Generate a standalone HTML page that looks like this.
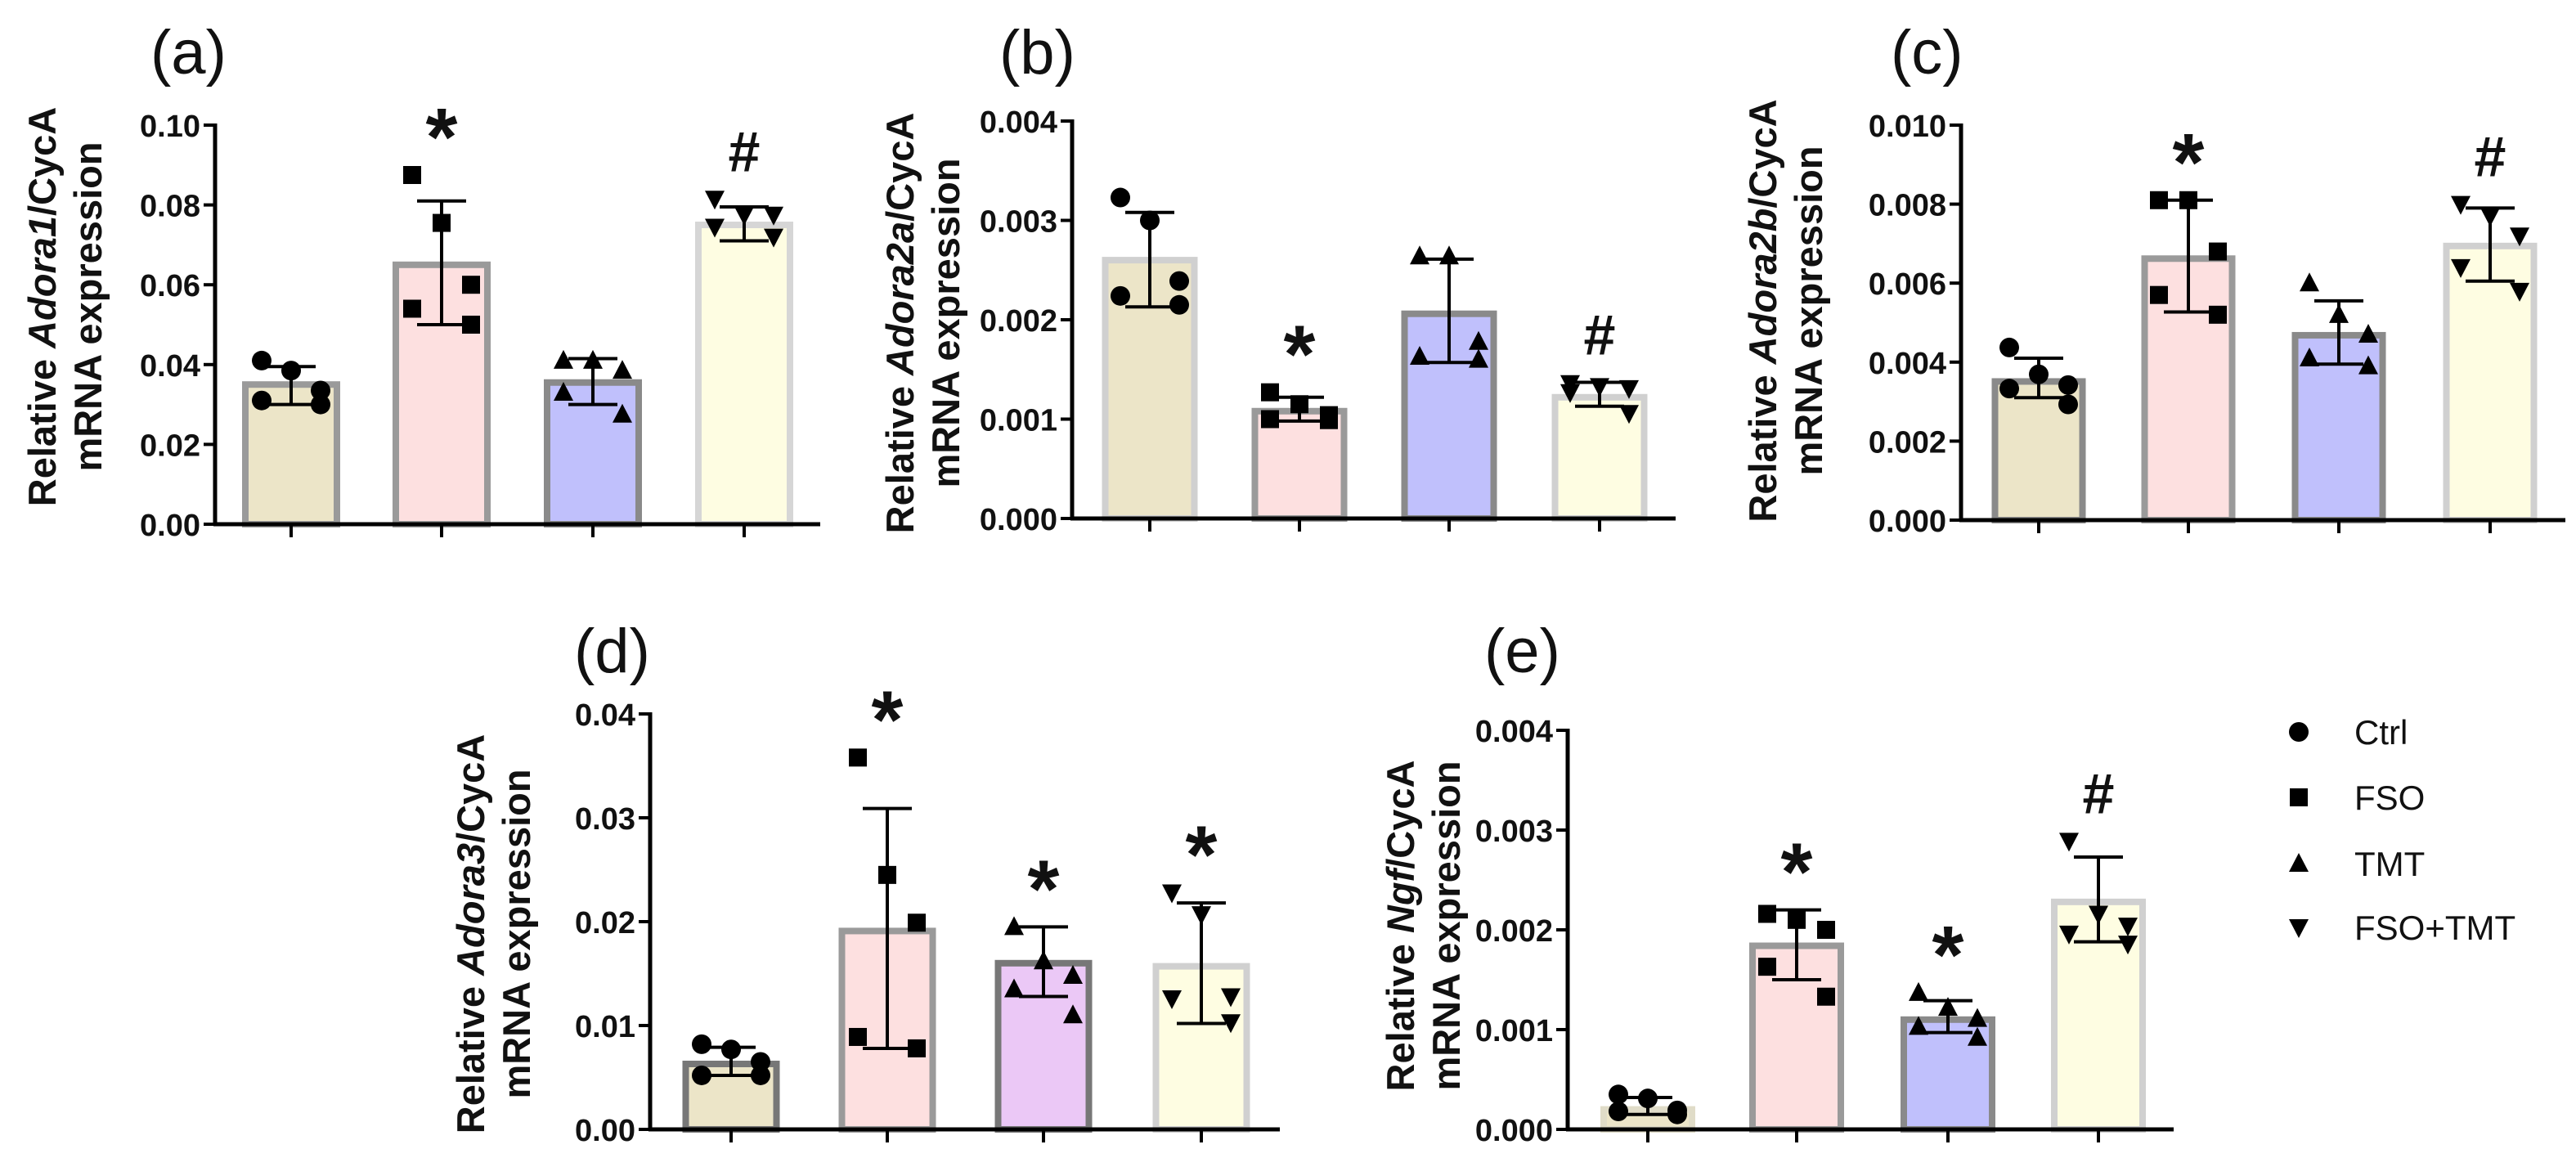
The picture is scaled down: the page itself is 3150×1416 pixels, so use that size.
<!DOCTYPE html>
<html><head><meta charset="utf-8">
<style>
html,body{margin:0;padding:0;background:#fff;}
svg{display:block;}
.tk{font-family:"Liberation Sans Narrow","Liberation Sans",sans-serif;font-weight:bold;font-size:38px;fill:#111;}
.yt{font-family:"Liberation Sans",sans-serif;font-weight:bold;font-size:47px;fill:#111;}
.pl{font-family:"Liberation Sans",sans-serif;font-size:76px;fill:#111;}
.sig{font-family:"Liberation Sans",sans-serif;font-weight:bold;fill:#111;}
.lg{font-family:"Liberation Sans Narrow","Liberation Sans",sans-serif;font-size:42px;fill:#111;}
</style></head>
<body>
<svg id="fig" width="3150" height="1416" viewBox="0 0 3150 1416" xmlns="http://www.w3.org/2000/svg"></svg>
<script>
// ---- data ----
const groups = ["Ctrl","FSO","TMT","FSO+TMT"];
const aMeans = [0.035,0.065,0.0355,0.075];
const aLow = [0.030,0.050,0.030,0.071];
const aHigh = [0.0395,0.081,0.0415,0.0795];
const aPoints = [[0.041,0.0385,0.0335,0.031,0.030],[0.0875,0.0755,0.060,0.054,0.050],[0.041,0.041,0.0385,0.033,0.0275],[0.0815,0.0775,0.0775,0.0745,0.072]];
const aSig = ["","*","","#"];
const aTicks = ["0.00","0.02","0.04","0.06","0.08","0.10"];

const bMeans = [0.0026,0.00108,0.00206,0.00122];
const bLow = [0.00213,0.00098,0.00157,0.00113];
const bHigh = [0.00308,0.00122,0.00261,0.00137];
const bPoints = [[0.00323,0.0030,0.00239,0.00224,0.00215],[0.00127,0.00115,0.00104,0.0010,0.00099],[0.00264,0.00264,0.00178,0.00163,0.0016],[0.00136,0.00133,0.00131,0.00127,0.00106]];
const bSig = ["","*","","#"];
const bTicks = ["0.000","0.001","0.002","0.003","0.004"];

const cMeans = [0.00351,0.00662,0.00468,0.00694];
const cLow = [0.0031,0.00527,0.00395,0.00605];
const cHigh = [0.0041,0.0081,0.00555,0.0079];
const cPoints = [[0.00437,0.00369,0.00342,0.00333,0.00293],[0.0081,0.0081,0.0068,0.0057,0.0052],[0.0060,0.0052,0.0047,0.0041,0.0039],[0.0080,0.0077,0.0072,0.0064,0.0058]];
const cSig = ["","*","","#"];
const cTicks = ["0.000","0.002","0.004","0.006","0.008","0.010"];

const dMeans = [0.0063,0.0191,0.016,0.0157];
const dLow = [0.0052,0.0078,0.0128,0.0102];
const dHigh = [0.0079,0.0309,0.0195,0.0218];
const dPoints = [[0.0082,0.0077,0.0065,0.0052,0.0052],[0.0358,0.0245,0.0199,0.0089,0.0078],[0.0195,0.0162,0.0148,0.0135,0.0110],[0.0228,0.0207,0.0128,0.0126,0.0103]];
const dSig = ["","*","*","*"];
const dTicks = ["0.00","0.01","0.02","0.03","0.04"];

const eMeans = [0.0002,0.00184,0.0011,0.00228];
const eLow = [0.00015,0.0015,0.00097,0.00188];
const eHigh = [0.00032,0.0022,0.00129,0.00273];
const ePoints = [[0.00035,0.00031,0.00019,0.00018,0.00015],[0.00216,0.0021,0.0020,0.00163,0.00133],[0.00137,0.00122,0.00111,0.00103,0.00092],[0.00289,0.00216,0.00204,0.00196,0.00186]];
const eSig = ["","*","*","#"];
const eTicks = ["0.000","0.001","0.002","0.003","0.004"];

// ---- drawing ----
const NS="http://www.w3.org/2000/svg";
const svg=document.getElementById('fig');
function mk(tag,attrs,parent){const e=document.createElementNS(NS,tag);for(const k in attrs)e.setAttribute(k,attrs[k]);(parent||svg).appendChild(e);return e;}
const JIT=[-36,0,36,-36,36];
function marker(kind,x,y,g){
  const r=12;let e;
  if(kind===0) e=mk('circle',{cx:x,cy:y,r:r,fill:'#000'},g);
  else if(kind===1) e=mk('rect',{x:x-r+1,y:y-r+1,width:2*r-2,height:2*r-2,fill:'#000'},g);
  else if(kind===2) e=mk('polygon',{points:`${x},${y-r-1} ${x-r},${y+r-2} ${x+r},${y+r-2}`,fill:'#000'},g);
  else e=mk('polygon',{points:`${x},${y+r+1} ${x-r},${y-r+2} ${x+r},${y-r+2}`,fill:'#000'},g);
  return e;
}
function panel(o){
  const g=mk('g',{});
  
  
  const ymax=parseFloat(o.ticks[o.ticks.length-1]);
  const Y=v=>o.y0-(v/ymax)*(o.y0-o.ytop);
  const X=i=>o.cx[i];
  const fills=o.fills, strokes=o.strokes;
  for(let i=0;i<4;i++){
    const b=mk('rect',{x:X(i)-o.bw/2+4,y:Y(o.means[i]),width:o.bw-8,height:o.y0-Y(o.means[i]),fill:fills[i],stroke:strokes[i],'stroke-width':8},g);
    
    
  }
  for(let i=0;i<4;i++){
    o.points[i].forEach((v,j)=>{
      const m=marker(i,X(i)+JIT[j],Y(v),g);
      
      
    });
  }
  for(let i=0;i<4;i++){
    const eg=mk('g',{stroke:'#000','stroke-width':4},g);
    
    
    mk('line',{x1:X(i),x2:X(i),y1:Y(o.high[i]),y2:Y(o.low[i])},eg);
    mk('line',{x1:X(i)-30,x2:X(i)+30,y1:Y(o.high[i]),y2:Y(o.high[i])},eg);
    mk('line',{x1:X(i)-30,x2:X(i)+30,y1:Y(o.low[i]),y2:Y(o.low[i])},eg);
  }
  const ax=mk('line',{x1:o.ax,x2:o.ax,y1:o.ytop-2,y2:o.y0+2,stroke:'#000','stroke-width':5},g);
  
  
  const xa=mk('line',{x1:o.ax-2,x2:o.xend,y1:o.y0,y2:o.y0,stroke:'#000','stroke-width':5},g);
  
  
  o.ticks.forEach(t=>{
    const y=Y(parseFloat(t));
    mk('line',{x1:o.ax-14,x2:o.ax,y1:y,y2:y,stroke:'#000','stroke-width':4},g);
    const tx=mk('text',{x:o.ax-18,y:y+14,'text-anchor':'end',class:'tk'},g);
    tx.textContent=t;
    
    
  });
  for(let i=0;i<4;i++){
    mk('line',{x1:X(i),x2:X(i),y1:o.y0,y2:o.y0+16,stroke:'#000','stroke-width':4},g);
    if(o.sig[i]){
      const hi=Math.max(o.high[i],...o.points[i]);
      const s=mk('text',{x:X(i),y:Y(hi)-(o.sig[i]==='*'?12:34),'text-anchor':'middle',class:'sig','font-size':o.sig[i]==='*'?100:70},g);
      s.textContent=o.sig[i];
      
      
    }
  }
  const cy=o.titleY;
  const t=mk('text',{transform:`translate(${o.tx1},${cy}) rotate(-90)`,'text-anchor':'middle',class:'yt'},g);
  
  
  t.innerHTML='Relative <tspan font-style="italic">'+o.gene+'</tspan>/CycA';
  const t2=mk('text',{transform:`translate(${o.tx2},${cy}) rotate(-90)`,'text-anchor':'middle',class:'yt'},g);
  t2.textContent='mRNA expression';
  
  
  const pl=mk('text',{x:o.plx,y:o.ply,class:'pl'},g);
  pl.textContent='('+o.id+')';
  
  
}
const F1=['#ece5c8','#fde0e0','#c0c0fc','#fefde2'];
panel({id:'a',gene:'Adora1',means:aMeans,low:aLow,high:aHigh,points:aPoints,sig:aSig,ticks:aTicks,
  ax:263,y0:641,ytop:153,cx:[356,540,725,910],bw:120,xend:1003,fills:F1,strokes:['#9a9a9a','#9a9a9a','#8a8a8a','#d6d6d6'],
  tx1:68,tx2:124,titleY:375,plx:184,ply:90});
panel({id:'b',gene:'Adora2a',means:bMeans,low:bLow,high:bHigh,points:bPoints,sig:bSig,ticks:bTicks,
  ax:1311,y0:634,ytop:148,cx:[1406,1589,1772,1956],bw:117,xend:2049,fills:F1,strokes:['#d0d0d0','#9a9a9a','#8a8a8a','#d0d0d0'],
  tx1:1117,tx2:1173,titleY:395,plx:1222,ply:90});
panel({id:'c',gene:'Adora2b',means:cMeans,low:cLow,high:cHigh,points:cPoints,sig:cSig,ticks:cTicks,
  ax:2398,y0:636,ytop:153,cx:[2493,2676,2860,3045],bw:115,xend:3137,fills:F1,strokes:['#8a8a8a','#9a9a9a','#8a8a8a','#d0d0d0'],
  tx1:2172,tx2:2228,titleY:380,plx:2312,ply:90});
panel({id:'d',gene:'Adora3',means:dMeans,low:dLow,high:dHigh,points:dPoints,sig:dSig,ticks:dTicks,
  ax:795,y0:1381,ytop:873,cx:[894,1085,1276,1469],bw:119,xend:1565,fills:['#ece5c8','#fde0e0','#ebc8f6','#fefde2'],strokes:['#777','#9a9a9a','#777','#d0d0d0'],
  tx1:592,tx2:648,titleY:1142,plx:702,ply:822});
panel({id:'e',gene:'Ngf',means:eMeans,low:eLow,high:eHigh,points:ePoints,sig:eSig,ticks:eTicks,
  ax:1917,y0:1381,ytop:893,cx:[2015,2197,2382,2566],bw:116,xend:2658,fills:F1,strokes:['#e0dcc8','#9a9a9a','#8a8a8a','#d0d0d0'],
  tx1:1729,tx2:1785,titleY:1132,plx:1815,ply:822});
const lg=mk('g',{});


const legY=[895,975,1056,1134];
groups.forEach((gname,i)=>{
  const eg=mk('g',{},lg);
  
  
  marker(i,2811,legY[i],eg);
  const t=mk('text',{x:2879,y:legY[i]+15,class:'lg'},eg);
  t.textContent=gname;
});
</script>
</body></html>
